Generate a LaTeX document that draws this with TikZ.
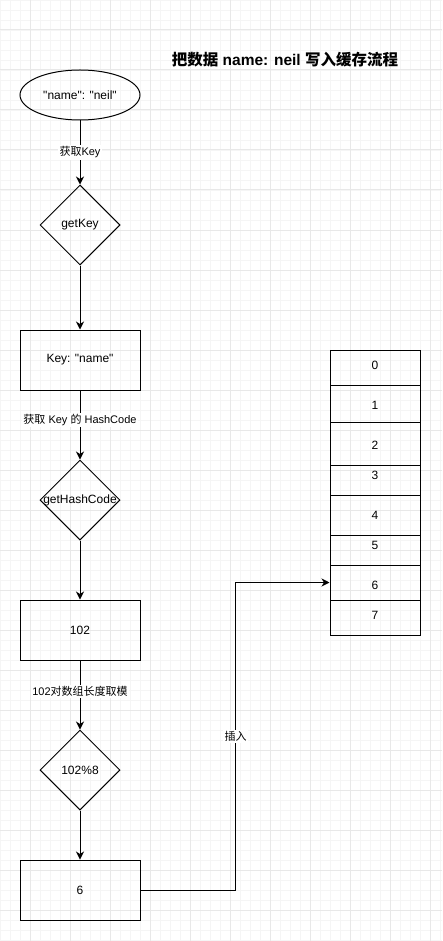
\documentclass[tikz,border=0pt]{standalone}
\usepackage{fontspec}
\setmainfont{Liberation Sans}[Ligatures=TeXOff]
\newfontfamily\cjk{Noto Sans CJK SC}
\usetikzlibrary{shapes.geometric,arrows.meta}
\begin{document}
\begin{tikzpicture}[x=1pt,y=-1pt,
  minorgrid/.style={draw=black!4, line width=0.8pt},
  majorgrid/.style={draw=black!9, line width=1pt},
  shp/.style={draw, line width=1pt, inner sep=0pt, font=\fontsize{12}{14}\selectfont},
  box/.style={shp, minimum width=120pt, minimum height=60pt},
  dia/.style={shp, diamond, minimum width=80pt, minimum height=80pt},
  cell/.style={draw, line width=1pt, inner sep=0pt, minimum width=90pt},
  num/.style={inner sep=0pt, font=\fontsize{12}{14}\selectfont},
  arr/.style={-{Stealth[length=8pt,width=8pt,inset=2.5pt]}, line width=1pt},
  lbl/.style={fill=white, inner sep=1.5pt, font=\fontsize{11}{13}\selectfont}]
\useasboundingbox (0,0) rectangle (442,941);
\fill[white] (0,0) rectangle (442,941);
% grid
\foreach \i in {0,10,...,440} \draw[minorgrid] (\i,0) -- (\i,941);
\foreach \j in {0,10,...,940} \draw[minorgrid] (0,\j) -- (442,\j);
\foreach \i in {30,70,...,430} \draw[majorgrid] (\i,0) -- (\i,941);
\foreach \j in {30,70,...,910} \draw[majorgrid] (0,\j) -- (442,\j);
% title
\node[font=\fontsize{15.5}{18}\selectfont\bfseries] (title) at (285,60) {{\cjk 把数据} name: neil {\cjk 写入缓存流程}};
% flow
\node[shp, ellipse, minimum width=120pt, minimum height=50pt] (src) at (80,95) {"name": "neil"};
\node[dia] (d1) at (80,225) {\makebox[0pt]{getKey}};
\node[box] (r1) at (80,360) {Key: "name"};
\node[dia] (d2) at (80,500) {\makebox[0pt]{getHashCode}};
\node[box] (r2) at (80,630) {102};
\node[dia] (d3) at (80,770) {\makebox[0pt]{102\%8}};
\node[box] (r3) at (80,890) {6};
\draw[arr] (src) -- node[lbl, pos=0.5] {{\cjk 获取}Key} (d1);
\draw[arr] (d1) -- (r1);
\draw[arr] (r1) -- node[lbl, pos=0.43] {{\cjk 获取} Key {\cjk 的} HashCode} (d2);
\draw[arr] (d2) -- (r2);
\draw[arr] (r2) -- node[lbl, pos=0.45] {102{\cjk 对数组长度取模}} (d3);
\draw[arr] (d3) -- (r3);
% array
\node[cell, minimum height=35pt, label={[num,yshift=1.8pt]center:0}] (c0) at (375,367.5) {};
\node[cell, minimum height=37pt, label={[num,yshift=-2.2pt]center:1}] (c1) at (375,403.5) {};
\node[cell, minimum height=43pt, label={[num,yshift=-2.2pt]center:2}] (c2) at (375,443.5) {};
\node[cell, minimum height=30pt, label={[num,yshift=4.3pt]center:3}] (c3) at (375,480) {};
\node[cell, minimum height=40pt, label={[num,yshift=-0.7pt]center:4}] (c4) at (375,515) {};
\node[cell, minimum height=30pt, label={[num,yshift=4.3pt]center:5}] (c5) at (375,550) {};
\node[cell, minimum height=35pt, label={[num,yshift=-3.2pt]center:6}] (c6) at (375,582.5) {};
\node[cell, minimum height=35pt, label={[num,yshift=1.8pt]center:7}] (c7) at (375,617.5) {};
\draw[arr] (r3.east) -- ++(95,0) |- node[lbl, pos=0.25] {\cjk 插入} (c6.west);
\end{tikzpicture}
\end{document}
